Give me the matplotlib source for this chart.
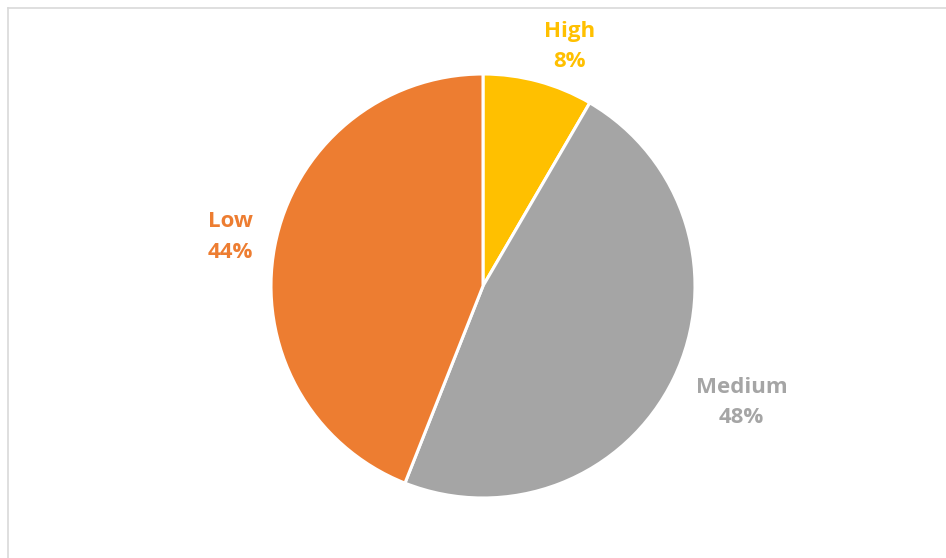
import matplotlib
matplotlib.use("Agg")
import matplotlib.pyplot as plt
from matplotlib.lines import Line2D

categories = ["High", "Medium", "Low"]
values = [8.4, 47.6, 44.0]
colors = ["#FFC000", "#A5A5A5", "#ED7D31"]
label_pos = [(0.41, 1.13), (1.22, -0.55), (-1.19, 0.23)]

W, H = 946, 558
fig = plt.figure(figsize=(W / 100, H / 100), dpi=100)
fig.patch.set_facecolor("white")

cx, cy, r = 483, H - 286, 212
half = 1.5 * r
ax = fig.add_axes([(cx - half) / W, (cy - half) / H, 2 * half / W, 2 * half / H])

ax.pie(values, colors=colors, startangle=90, counterclock=False, radius=1,
       wedgeprops=dict(edgecolor="white", linewidth=2.2))
ax.set_xlim(-1.5, 1.5)
ax.set_ylim(-1.5, 1.5)
ax.axis("off")

total = sum(values)
for cat, v, c, (x, y) in zip(categories, values, colors, label_pos):
    ax.text(x, y, f"{cat}\n{round(100 * v / total)}%", color=c, fontsize=16,
            fontweight="bold", family=["Open Sans", "DejaVu Sans"],
            ha="center", va="center", linespacing=1.6)

bc = "#D9D9D9"
fig.add_artist(Line2D([7.5 / W, 7.5 / W], [0, (H - 8) / H], color=bc, lw=1.2,
                      transform=fig.transFigure))
fig.add_artist(Line2D([7.5 / W, 1], [(H - 8) / H, (H - 8) / H], color=bc, lw=1.2,
                      transform=fig.transFigure))

fig.savefig("out.png", dpi=100, facecolor="white")
